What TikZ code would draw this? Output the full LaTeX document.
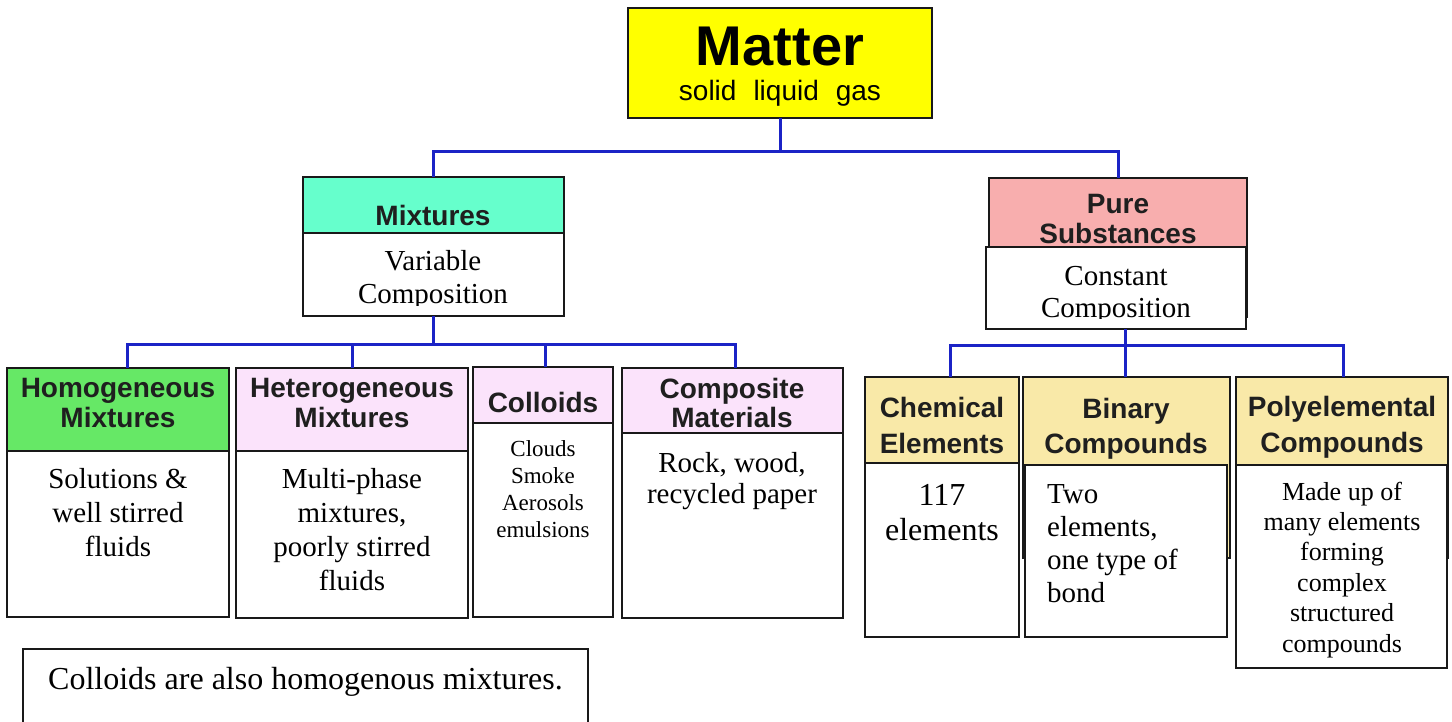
\documentclass[tikz,border=0pt]{standalone}
\usepackage{fontspec}
\setmainfont{Liberation Serif}
\setsansfont{Liberation Sans}
\usetikzlibrary{fit,calc}
\definecolor{connblue}{HTML}{1B23C6}
\definecolor{matteryellow}{HTML}{FFFF00}
\definecolor{mixfill}{HTML}{66FFCC}
\definecolor{purefill}{HTML}{F8AEAE}
\definecolor{homfill}{HTML}{66E866}
\definecolor{lavfill}{HTML}{FBE3FB}
\definecolor{cmpfill}{HTML}{F9E9A8}
\begin{document}
\begin{tikzpicture}[x=1pt,y=-1pt,
  box/.style={draw=black!90, line width=1.6pt, inner sep=0pt, outer sep=0pt},
  conn/.style={draw=connblue, line width=3pt},
  hd/.style={font=\sffamily\bfseries\fontsize{28}{30}\selectfont, text=black!88, align=center, anchor=base, inner sep=0pt},
  bd/.style={font=\fontsize{29}{34}\selectfont, align=center, anchor=base, inner sep=0pt},
]
\useasboundingbox (0,0) rectangle (1452,721);
\clip (0,0) rectangle (1452,721);
\fill[white] (0,0) rectangle (1452,721);

% Matter
\node[box, fill=matteryellow, fit={(628,8) (932,118)}] (matter) {};
\node[anchor=base, inner sep=0pt, font=\sffamily\bfseries\fontsize{56}{60}\selectfont] (mattert) at (780,65) {Matter};
\node[anchor=base, inner sep=0pt, font=\sffamily\fontsize{28}{30}\selectfont] (matters) at (780,100) {solid\hspace{17pt}liquid\hspace{17pt}gas};

% Mixtures
\node[box, fill=mixfill, fit={(303,177) (564,233)}] (mixhdr) {};
\node[box, fill=white, fit={(303,233) (564,316)}] (mixbody) {};
\node[hd] (mixt) at (433,225) {Mixtures};
\begin{scope}
\clip (303,233) rectangle (564,305);
\node[bd, font=\fontsize{29}{33}\selectfont] (mixb) at (433,303) {Variable\\Composition};
\end{scope}

% Pure substances
\node[box, fill=purefill, fit={(989,178) (1247,317)}] (purehdr) {};
\node[box, fill=white, fit={(986,247) (1246,329)}] (purebody) {};
\node[hd] (puret) at (1118,243) {Pure\\Substances};
\begin{scope}
\clip (986,247) rectangle (1246,318);
\node[bd, font=\fontsize{29}{32}\selectfont] (pureb) at (1116,317) {Constant\\Composition};
\end{scope}

% Homogeneous
\node[box, fill=homfill, fit={(7,368) (229,451)}] (homhdr) {};
\node[box, fill=white, fit={(7,451) (229,617)}] (hombody) {};
\node[hd] (homt) at (118,427) {Homogeneous\\Mixtures};
\node[bd] (homb) at (118,556) {Solutions \&\\well stirred\\fluids};

% Heterogeneous
\node[box, fill=lavfill, fit={(236,368) (468,451)}] (hethdr) {};
\node[box, fill=white, fit={(236,451) (468,618)}] (hetbody) {};
\node[hd] (hett) at (352,427) {Heterogeneous\\Mixtures};
\node[bd] (hetb) at (352,590) {Multi-phase\\mixtures,\\poorly stirred\\fluids};

% Colloids
\node[box, fill=lavfill, fit={(473,367) (613,423)}] (colhdr) {};
\node[box, fill=white, fit={(473,423) (613,617)}] (colbody) {};
\node[hd] (colt) at (543,412) {Colloids};
\node[bd, font=\fontsize{23}{27}\selectfont] (colb) at (543,537) {Clouds\\Smoke\\Aerosols\\emulsions};

% Composite
\node[box, fill=lavfill, fit={(622,368) (843,433)}] (comphdr) {};
\node[box, fill=white, fit={(622,433) (843,618)}] (compbody) {};
\node[hd, font=\sffamily\bfseries\fontsize{28}{29}\selectfont] (compt) at (732,427) {Composite\\Materials};
\node[bd, font=\fontsize{29}{31}\selectfont] (compb) at (732,503) {Rock, wood,\\recycled paper};

% Chemical elements
\node[box, fill=cmpfill, fit={(865,377) (1019,463)}] (chemhdr) {};
\node[box, fill=white, fit={(865,463) (1019,637)}] (chembody) {};
\node[hd, font=\sffamily\bfseries\fontsize{28}{36}\selectfont] (chemt) at (942,453) {Chemical\\Elements};
\node[bd, font=\fontsize{32}{35}\selectfont] (chemb) at (942,540) {117\\elements};

% Binary compounds
\node[box, fill=cmpfill, fit={(1023,377) (1230,558)}] (binhdr) {};
\node[box, fill=white, fit={(1025,465) (1227,637)}] (binbody) {};
\node[hd, font=\sffamily\bfseries\fontsize{28}{35}\selectfont] (bint) at (1126,453) {Binary\\Compounds};
\node[bd, font=\fontsize{29}{33}\selectfont, align=left, anchor=base west] (binb) at (1047,602) {Two\\elements,\\one type of\\bond};

% Polyelemental compounds
\node[box, fill=cmpfill, fit={(1236,377) (1448,558)}] (polyhdr) {};
\node[box, fill=white, fit={(1236,465) (1447,668)}] (polybody) {};
\node[hd, font=\sffamily\bfseries\fontsize{28}{36}\selectfont] (polyt) at (1342,452) {Polyelemental\\Compounds};
\node[bd, font=\fontsize{26}{30.4}\selectfont] (polyb) at (1342,652) {Made up of\\many elements\\forming\\complex\\structured\\compounds};

% Note
\node[box, fill=white, fit={(23,649) (588,740)}] (note) {};
\node[anchor=base west, inner sep=0pt, font=\fontsize{32}{36}\selectfont] (notet) at (48,689) {Colloids are also homogenous mixtures.};

% Connectors
\coordinate (j1) at (780,151);
\draw[conn] (matter.south) -- (j1);
\draw[conn] (mixhdr.north) |- (j1) -| (purehdr.north);

\coordinate (j2) at (433.5,344);
\draw[conn] (mixbody.south) -- (j2);
\draw[conn] ([xshift=9pt]homhdr.north) |- (j2) -| ([xshift=3pt]comphdr.north);
\draw[conn] (hethdr.north) -- (hethdr.north |- j2);
\draw[conn] ([xshift=2pt]colhdr.north) -- ([xshift=2pt]colhdr.north |- j2);

\coordinate (j3) at (1125,345);
\draw[conn] ([xshift=9pt]purebody.south) -- ([xshift=-1.5pt]binhdr.north);
\draw[conn] ([xshift=8pt]chemhdr.north) |- (j3) -| ([xshift=1pt]polyhdr.north);
\end{tikzpicture}
\end{document}
